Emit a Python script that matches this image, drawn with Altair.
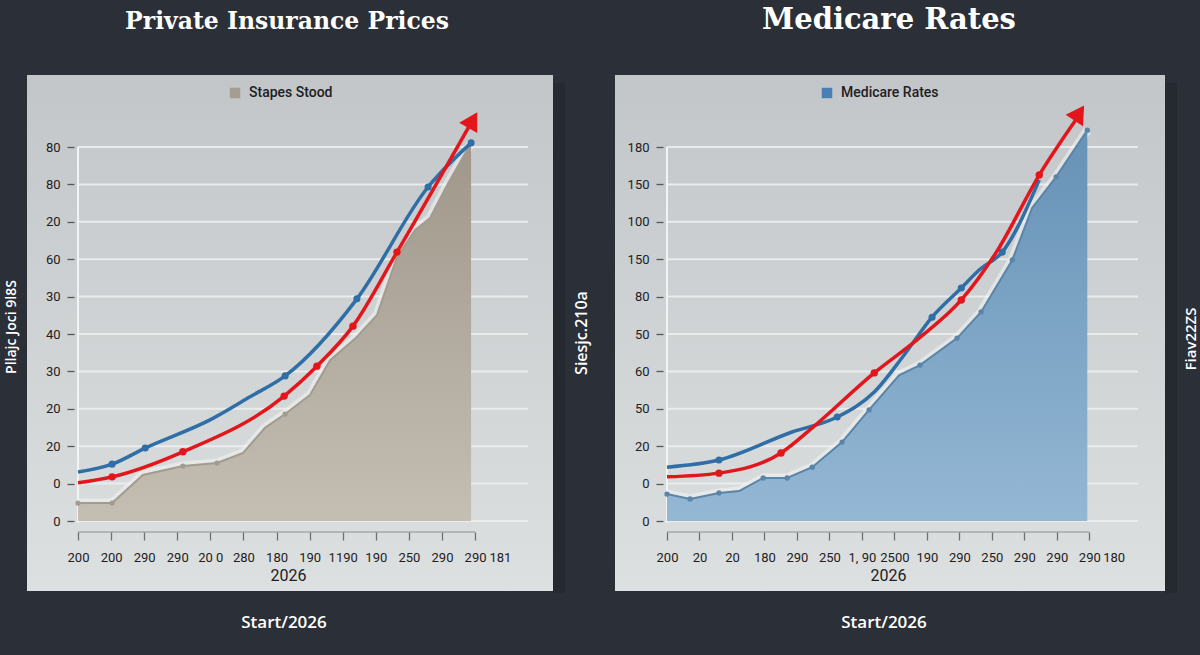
import json
import altair as alt
import pandas as pd

# ---------------- colours ----------------
BG = "#2b3038"
PANEL_TOP = "#c2c6c9"
PANEL_BOTTOM = "#dde0e0"
GRID = "#eceeee"
BLUE = "#2f6ea6"
RED = "#e3161c"
DARK = "#1f2022"

# ---------------- left panel data ----------------
L_TITLE = "Private Insurance Prices"
L_LEGEND = "Stapes Stood"
L_YTITLE = "Pllajc Joci 9l8S"
L_XTITLE = "2026"
L_FOOT = "Start/2026"
L_XTICKS = [0, 1, 2, 3, 4, 5, 6, 7, 8, 9, 10, 11, 12, 12.75]
L_XLABELS = ["200", "200", "290", "290", "20 0", "280", "180", "190", "1190",
             "190", "250", "290", "290", "181"]
L_YTICKS = [0, 1, 2, 3, 4, 5, 6, 7, 8, 9, 10]
L_YLABELS = ["0", "0", "20", "20", "30", "40", "30", "60", "20", "80", "80"]

L_AREA_X = [0, 1.03, 1.96, 3.17, 4.2, 4.99, 5.65, 6.26, 7.01, 7.62, 8.37, 9.04,
            9.64, 10.19, 10.64, 11.19, 11.88]
L_AREA_Y = [0.48, 0.48, 1.23, 1.47, 1.55, 1.82, 2.49, 2.86, 3.37, 4.3, 4.87, 5.51,
            7.06, 7.78, 8.1, 9.04, 10.11]
L_AREA_DOT = [1, 1, 0, 1, 1, 0, 0, 1, 0, 0, 0, 0, 0, 0, 0, 0, 1]

L_BLUE_X = [0, 1.03, 2.03, 4.05, 5.2, 6.26, 8.43, 10.58, 11.88]
L_BLUE_Y = [1.31, 1.52, 1.95, 2.73, 3.32, 3.88, 5.94, 8.93, 10.11]
L_BLUE_DOT = [0, 1, 1, 0, 0, 1, 1, 1, 1]

L_RED_X = [0, 1.03, 3.17, 6.23, 7.22, 8.31, 9.64, 11.85]
L_RED_Y = [1.02, 1.18, 1.85, 3.34, 4.14, 5.21, 7.19, 10.6]
L_RED_DOT = [0, 1, 1, 1, 1, 1, 1, 0]
L_ARROW = (11.93, 10.72, 30)

# ---------------- right panel data ----------------
R_TITLE = "Medicare Rates"
R_LEGEND = "Medicare Rates"
R_YTITLE = "Siesjc.210a"
R_SIDE = "Fiav22ZS"
R_XTITLE = "2026"
R_FOOT = "Start/2026"
R_XTICKS = [0, 1, 2, 3, 4, 5, 6, 7, 8, 9, 10, 11, 12, 13, 13.75]
R_XLABELS = ["200", "20", "20", "180", "290", "250", "1,  90", "2500", "190",
             "290", "250", "290", "290", "290", "180"]
R_YTICKS = [0, 1, 2, 3, 4, 5, 6, 7, 8, 9, 10]
R_YLABELS = ["0", "0", "20", "50", "60", "50", "80", "150", "100", "150", "180"]

R_AREA_X = [0, 0.71, 1.6, 2.22, 2.96, 3.7, 4.47, 5.39, 6.22, 7.15, 7.79, 8.93,
            9.67, 10.63, 11.24, 11.98, 12.94]
R_AREA_Y = [0.72, 0.59, 0.75, 0.8, 1.15, 1.15, 1.44, 2.11, 2.97, 3.9, 4.17, 4.89,
            5.59, 6.98, 8.37, 9.2, 10.45]
R_AREA_DOT = [1, 1, 1, 0, 1, 1, 1, 1, 1, 0, 1, 1, 1, 1, 0, 1, 1]

R_BLUE_X = [0, 1.6, 3.85, 5.24, 6.38, 7.3, 8.16, 9.06, 9.61, 10.32, 11.46]
R_BLUE_Y = [1.44, 1.63, 2.38, 2.78, 3.45, 4.44, 5.45, 6.23, 6.71, 7.19, 9.12]
R_BLUE_DOT = [0, 1, 0, 1, 0, 0, 1, 1, 0, 1, 0]

R_RED_X = [0, 1.6, 3.51, 4.47, 6.38, 7.76, 9.06, 10.14, 11.46, 12.63]
R_RED_Y = [1.18, 1.28, 1.82, 2.49, 3.96, 4.89, 5.91, 7.19, 9.25, 10.78]
R_RED_DOT = [0, 1, 1, 0, 1, 0, 1, 0, 1, 0]
R_ARROW = (12.69, 10.91, 33)

H = 374


def grad(top, bottom):
    return alt.Gradient(
        gradient="linear",
        stops=[alt.GradientStop(color=top, offset=0),
               alt.GradientStop(color=bottom, offset=1)],
        x1=0, x2=0, y1=0, y2=1,
    )


def one():
    return pd.DataFrame({"k": [0]})


def text_layer(txt, x, y, size, font, color, weight="normal", angle=0):
    return alt.Chart(one()).mark_text(
        text=txt, font=font, fontSize=size, fontWeight=weight, color=color,
        angle=angle, align="center", baseline="middle",
    ).encode(x=alt.value(x), y=alt.value(y))


def panel(W, xmax, xticks, xlabels, yticks, ylabels, xtitle, title_x,
          area_x, area_y, area_dot, blue_x, blue_y, blue_dot,
          red_x, red_y, red_dot, arrow, legend_name, legend_color, legend_x,
          area_top, area_bottom, edge_color, rect_ext, texts, full_bg=False):
    xs = alt.Scale(domain=[0, xmax], nice=False, zero=False)
    ys = alt.Scale(domain=[0, 10], nice=False, zero=False)
    hide = (xticks[-2] + xticks[-1]) / 2
    xaxis = alt.Axis(
        values=xticks,
        labelExpr=f"{json.dumps(xlabels)}[indexof({json.dumps(xticks)}, datum.value)]",
        title=xtitle, grid=False, domain=False, ticks=True, tickSize=8,
        tickWidth=1.3,
        tickColor={"condition": {"test": f"datum.value > {hide}", "value": "transparent"},
                   "value": "#6d7072"},
        offset=11, labelPadding=11, labelFont="Roboto", labelFontSize=13,
        labelColor=DARK, labelFlush=False, labelOverlap=False, labelAngle=0,
        titleFont="Roboto", titleFontSize=16, titleFontWeight="normal",
        titleColor=DARK, titlePadding=3, titleX=title_x, zindex=1,
    )
    yaxis = alt.Axis(
        values=yticks,
        labelExpr=f"{json.dumps(ylabels)}[datum.value]",
        title=None, grid=False, domain=False, ticks=True, tickSize=7,
        tickWidth=1.3, tickColor="#55585a", offset=4, labelPadding=7,
        labelFont="Roboto", labelFontSize=13, labelColor=DARK,
        labelOverlap=False, labelFlush=False, zindex=1,
    )
    X = lambda f: alt.X(f"{f}:Q", scale=xs, axis=xaxis)
    Y = lambda f: alt.Y(f"{f}:Q", scale=ys, axis=yaxis)

    area_df = pd.DataFrame({"x": area_x, "y": area_y, "dot": area_dot})
    blue_df = pd.DataFrame({"x": blue_x, "y": blue_y, "dot": blue_dot})
    red_df = pd.DataFrame({"x": red_x, "y": red_y, "dot": red_dot})
    arrow_df = pd.DataFrame({"x": [arrow[0]], "y": [arrow[1]]})
    grid_df = pd.DataFrame({"y": yticks})
    dom_df = pd.DataFrame({"a": [xticks[0]], "b": [xticks[-2]]})
    leg_df = pd.DataFrame({"s": [legend_name]})

    layers = []
    # legend carrier (hidden under panel)
    layers.append(
        alt.Chart(leg_df).mark_square(size=100, opacity=1).encode(
            x=alt.value(20), y=alt.value(20),
            color=alt.Color("s:N", scale=alt.Scale(domain=[legend_name], range=[legend_color]),
                            legend=alt.Legend(orient="none", legendX=legend_x, legendY=-61,
                                              title=None, symbolType="square",
                                              symbolSize=110, symbolStrokeWidth=0,
                                              labelFont="Roboto", labelFontSize=14,
                                              labelFontWeight=500, labelColor=DARK,
                                              labelOffset=7, padding=0, zindex=1)),
        )
    )
    if full_bg:
        layers.append(alt.Chart(one()).mark_rect(color=BG).encode(
            x=alt.value(-78), x2=alt.value(1122), y=alt.value(-147), y2=alt.value(508)))
    x0, x1, y0, y1 = rect_ext
    # soft shadow to the right of the panel
    layers.append(alt.Chart(one()).mark_rect(color="#1f2329", opacity=0.45).encode(
        x=alt.value(x1), x2=alt.value(x1 + 12), y=alt.value(y0 + 8), y2=alt.value(y1 + 2)))
    layers.append(alt.Chart(one()).mark_rect(fill=grad(PANEL_TOP, PANEL_BOTTOM)).encode(
        x=alt.value(x0), x2=alt.value(x1), y=alt.value(y0), y2=alt.value(y1)))
    # grid lines
    layers.append(alt.Chart(grid_df).mark_rule(color=GRID, strokeWidth=2, opacity=0.9).encode(
        y=Y("y"), x=alt.value(0), x2=alt.value(W)))
    # y axis line
    layers.append(alt.Chart(one()).mark_rule(color="#f2f3f3", strokeWidth=2).encode(
        x=alt.value(0), y=alt.value(0), y2=alt.value(H + 2)))
    # x axis line
    layers.append(alt.Chart(dom_df).mark_rule(color="#8c8f91", strokeWidth=1.2).encode(
        x=X("a"), x2="b:Q", y=alt.value(H + 11)))
    # glow, area, edge
    layers.append(alt.Chart(area_df).mark_line(color="#f4f4f2", strokeWidth=9, opacity=0.55).encode(
        x=X("x"), y=Y("y")))
    layers.append(alt.Chart(area_df).mark_area(fill=grad(area_top, area_bottom)).encode(
        x=X("x"), y=Y("y")))
    layers.append(alt.Chart(area_df).mark_line(color=edge_color, strokeWidth=2).encode(
        x=X("x"), y=Y("y")))
    layers.append(alt.Chart(area_df).transform_filter("datum.dot == 1").mark_circle(
        color=edge_color, size=28, opacity=1).encode(x=X("x"), y=Y("y")))
    # blue
    layers.append(alt.Chart(blue_df).mark_line(color=BLUE, strokeWidth=3.5, interpolate="monotone").encode(
        x=X("x"), y=Y("y")))
    layers.append(alt.Chart(blue_df).transform_filter("datum.dot == 1").mark_circle(
        color=BLUE, size=50, opacity=1).encode(x=X("x"), y=Y("y")))
    # red
    layers.append(alt.Chart(red_df).mark_line(color=RED, strokeWidth=3.5, interpolate="monotone").encode(
        x=X("x"), y=Y("y")))
    layers.append(alt.Chart(red_df).transform_filter("datum.dot == 1").mark_circle(
        color=RED, size=55, opacity=1).encode(x=X("x"), y=Y("y")))
    layers.append(alt.Chart(arrow_df).mark_point(shape="triangle-up", filled=True, size=430,
                                                 angle=arrow[2], color=RED, opacity=1).encode(
        x=X("x"), y=Y("y")))
    for t in texts:
        layers.append(text_layer(**t))
    return alt.layer(*layers).properties(width=W, height=H)


left = panel(
    W=450, xmax=13.6, xticks=L_XTICKS, xlabels=L_XLABELS, yticks=L_YTICKS,
    ylabels=L_YLABELS, xtitle=L_XTITLE, title_x=210,
    area_x=L_AREA_X, area_y=L_AREA_Y, area_dot=L_AREA_DOT,
    blue_x=L_BLUE_X, blue_y=L_BLUE_Y, blue_dot=L_BLUE_DOT,
    red_x=L_RED_X, red_y=L_RED_Y, red_dot=L_RED_DOT, arrow=L_ARROW,
    legend_name=L_LEGEND, legend_color="#a59d8f", legend_x=150,
    area_top="#a0978a", area_bottom="#c4beb3", edge_color="#a29b90",
    rect_ext=(-51, 475, -72, 444),
    texts=[
        dict(txt=L_TITLE, x=209, y=-125, size=23.5, font="DejaVu Serif", color="white", weight="bold"),
        dict(txt=L_FOOT, x=206, y=476, size=17, font="Open Sans", color="white", weight=600),
        dict(txt=L_YTITLE, x=-66, y=180, size=14, font="Open Sans", color="white", weight=600, angle=270),
    ],
    full_bg=True,
)

right = panel(
    W=471, xmax=14.5, xticks=R_XTICKS, xlabels=R_XLABELS, yticks=R_YTICKS,
    ylabels=R_YLABELS, xtitle=R_XTITLE, title_x=221,
    area_x=R_AREA_X, area_y=R_AREA_Y, area_dot=R_AREA_DOT,
    blue_x=R_BLUE_X, blue_y=R_BLUE_Y, blue_dot=R_BLUE_DOT,
    red_x=R_RED_X, red_y=R_RED_Y, red_dot=R_RED_DOT, arrow=R_ARROW,
    legend_name=R_LEGEND, legend_color="#4a7fb3", legend_x=153,
    area_top="#6692b6", area_bottom="#94b7d4", edge_color="#5a84a8",
    rect_ext=(-52, 498, -72, 444),
    texts=[
        dict(txt=R_TITLE, x=222, y=-127, size=29, font="DejaVu Serif", color="white", weight="bold"),
        dict(txt=R_FOOT, x=217, y=476, size=17, font="Open Sans", color="white", weight=600),
        dict(txt=R_YTITLE, x=-85, y=186, size=16, font="Open Sans", color="white", weight=600, angle=270),
        dict(txt=R_SIDE, x=524, y=192, size=15, font="Open Sans", color="white", weight=600, angle=270),
    ],
)

chart = (
    alt.hconcat(left, right, spacing=139, bounds="flush")
    .resolve_scale(color="independent", x="independent", y="independent")
    .resolve_legend(color="independent")
    .properties(padding=0, autosize=alt.AutoSizeParams(type="pad"), background=BG)
    .configure_view(stroke=None)
)

chart.save("out.html", embed_options={"renderer": "svg", "actions": False})
